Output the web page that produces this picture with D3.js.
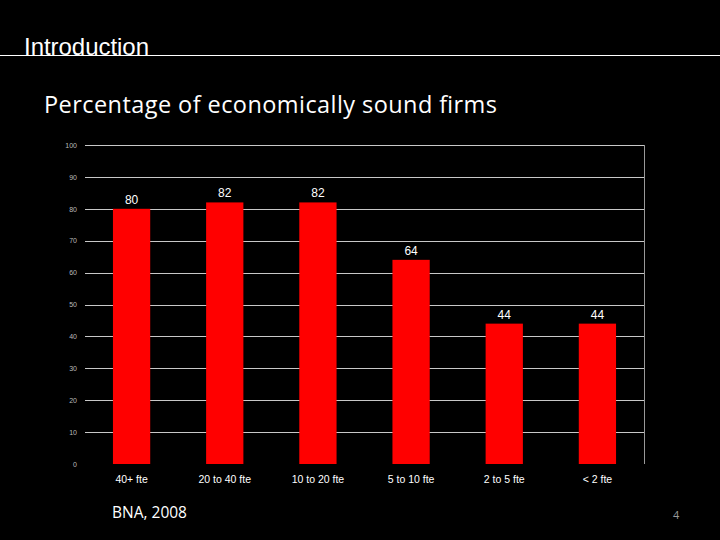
<!DOCTYPE html>
<html><head><meta charset="utf-8">
<script src="https://cdn.jsdelivr.net/npm/d3@7"></script>
<style>body{margin:0;background:#000;}svg{display:block;}</style>
</head><body>
<script>
const categories = ["40+ fte","20 to 40 fte","10 to 20 fte","5 to 10 fte","2 to 5 fte","< 2 fte"];
const values = [80,82,82,64,44,44];
const yTicks = [0,10,20,30,40,50,60,70,80,90,100];

(function(){
const W=720,H=540;
const svg=d3.select("body").append("svg").attr("width",W).attr("height",H).style("background","#000");

svg.append("text").attr("x",24).attr("y",55).attr("fill","#fff")
  .attr("font-family","Liberation Sans, Arial, sans-serif").attr("font-size",24).attr("textLength",125).text("Introduction");
svg.append("line").attr("x1",0).attr("x2",720).attr("y1",55.5).attr("y2",55.5).attr("stroke","#fff").attr("stroke-width",1);
svg.append("text").attr("x",44).attr("y",113).attr("fill","#fff")
  .attr("font-family","Open Sans, sans-serif").attr("font-size",23.5).attr("textLength",453).text("Percentage of economically sound firms");

const pl=85,pr=644,pt=145,pb=464;
const x=d3.scaleBand().domain(categories).range([pl,pr]).paddingInner(0.6).paddingOuter(0.3);
const y=d3.scaleLinear().domain([0,100]).range([pb,pt]);

const g=svg.append("g");
g.selectAll("line.grid").data(yTicks.filter(d=>d>0)).join("line")
  .attr("x1",pl).attr("x2",pr).attr("y1",d=>Math.round(y(d))+0.5).attr("y2",d=>Math.round(y(d))+0.5)
  .attr("stroke","#c8c8c8").attr("stroke-width",1.2);
g.append("line").attr("x1",pr+0.5).attr("x2",pr+0.5).attr("y1",pt).attr("y2",pb)
  .attr("stroke","#999").attr("stroke-width",1);

const yAxis=d3.axisLeft(y).tickValues(yTicks).tickSize(0).tickPadding(8);
const ya=svg.append("g").attr("transform",`translate(${pl},0)`).call(yAxis);
ya.select(".domain").remove();
ya.selectAll("text").attr("fill","#bbb").attr("font-family","Liberation Sans, Arial, sans-serif").attr("font-size",7);

g.selectAll("rect.bar").data(values).join("rect")
  .attr("x",(d,i)=>x(categories[i])).attr("width",x.bandwidth())
  .attr("y",d=>y(d)).attr("height",d=>y(0)-y(d)).attr("fill","#ff0000");

g.selectAll("text.val").data(values).join("text")
  .attr("x",(d,i)=>x(categories[i])+x.bandwidth()/2).attr("y",d=>y(d)-5)
  .attr("text-anchor","middle").attr("fill","#fff")
  .attr("font-family","Liberation Sans, Arial, sans-serif").attr("font-size",12).text(d=>d);

const xAxis=d3.axisBottom(x).tickSize(0).tickPadding(12);
const xa=svg.append("g").attr("transform",`translate(0,${pb})`).call(xAxis);
xa.select(".domain").remove();
xa.selectAll("text").attr("fill","#fff").attr("font-family","Liberation Sans, Arial, sans-serif").attr("font-size",10.5);

svg.append("text").attr("x",112).attr("y",518).attr("fill","#fff")
  .attr("font-family","Open Sans, sans-serif").attr("font-size",15.5).text("BNA, 2008");
svg.append("text").attr("x",673).attr("y",519).attr("fill","#999")
  .attr("font-family","Open Sans, sans-serif").attr("font-size",11).text("4");
})();
</script>
</body></html>
